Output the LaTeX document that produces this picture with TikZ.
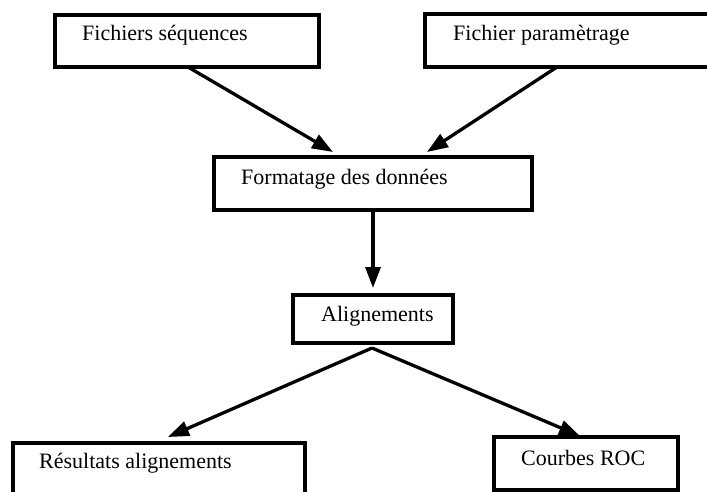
\documentclass[tikz,border=0pt]{standalone}
\usepackage{fontspec}
\setmainfont{Liberation Serif}
\usetikzlibrary{arrows.meta}
\begin{document}
\begin{tikzpicture}[x=1pt,y=-1pt,
  box/.style={draw=black, line width=3.6pt, inner sep=0pt, rectangle},
  lbl/.style={anchor=base west, inner sep=0pt, font=\fontsize{22}{26}\selectfont},
  conn/.style={line width=3.3pt, -{Triangle[length=21pt,width=15pt]}}]
\useasboundingbox (0,0) rectangle (707,492);
\clip (0,0) rectangle (707,492);
% boxes
\node[box, minimum width=264pt, minimum height=52pt] (b1) at (187,41) {};
\node[box, minimum width=305pt, minimum height=53pt] (b2) at (577.5,40.5) {};
\node[box, minimum width=318pt, minimum height=53pt] (b3) at (373,183.5) {};
\node[box, minimum width=160pt, minimum height=48pt] (b4) at (373,319) {};
\node[box, minimum width=292pt, minimum height=67pt] (b5) at (159,476.5) {};
\node[box, minimum width=184pt, minimum height=53pt] (b6) at (586,463.5) {};
% labels
\node[lbl] (t1) at (82,41) {Fichiers séquences};
\node[lbl] (t2) at (453,41) {Fichier paramètrage};
\node[lbl] (t3) at (241,184) {Formatage des données};
\node[lbl] (t4) at (321,321) {Alignements};
\node[lbl] (t5) at (39,468) {Résultats alignements};
\node[lbl] (t6) at (521,465) {Courbes ROC};
% connector ends
\coordinate (a1s) at (188,67);
\coordinate (a1e) at (333,152);
\coordinate (a2s) at (557,67);
\coordinate (a2e) at (427,152);
\coordinate (a3e) at (373,288);
\coordinate (a4s) at (372,348);
\coordinate (a4e) at (168,437);
\coordinate (a5e) at (580,436);
% connectors
\draw[conn] (a1s) -- (a1e);
\draw[conn] (a2s) -- (a2e);
\draw[conn] (b3.south) -- (a3e);
\draw[conn] (a4s) -- (a4e);
\draw[conn] (a4s) -- (a5e);
\end{tikzpicture}
\end{document}
